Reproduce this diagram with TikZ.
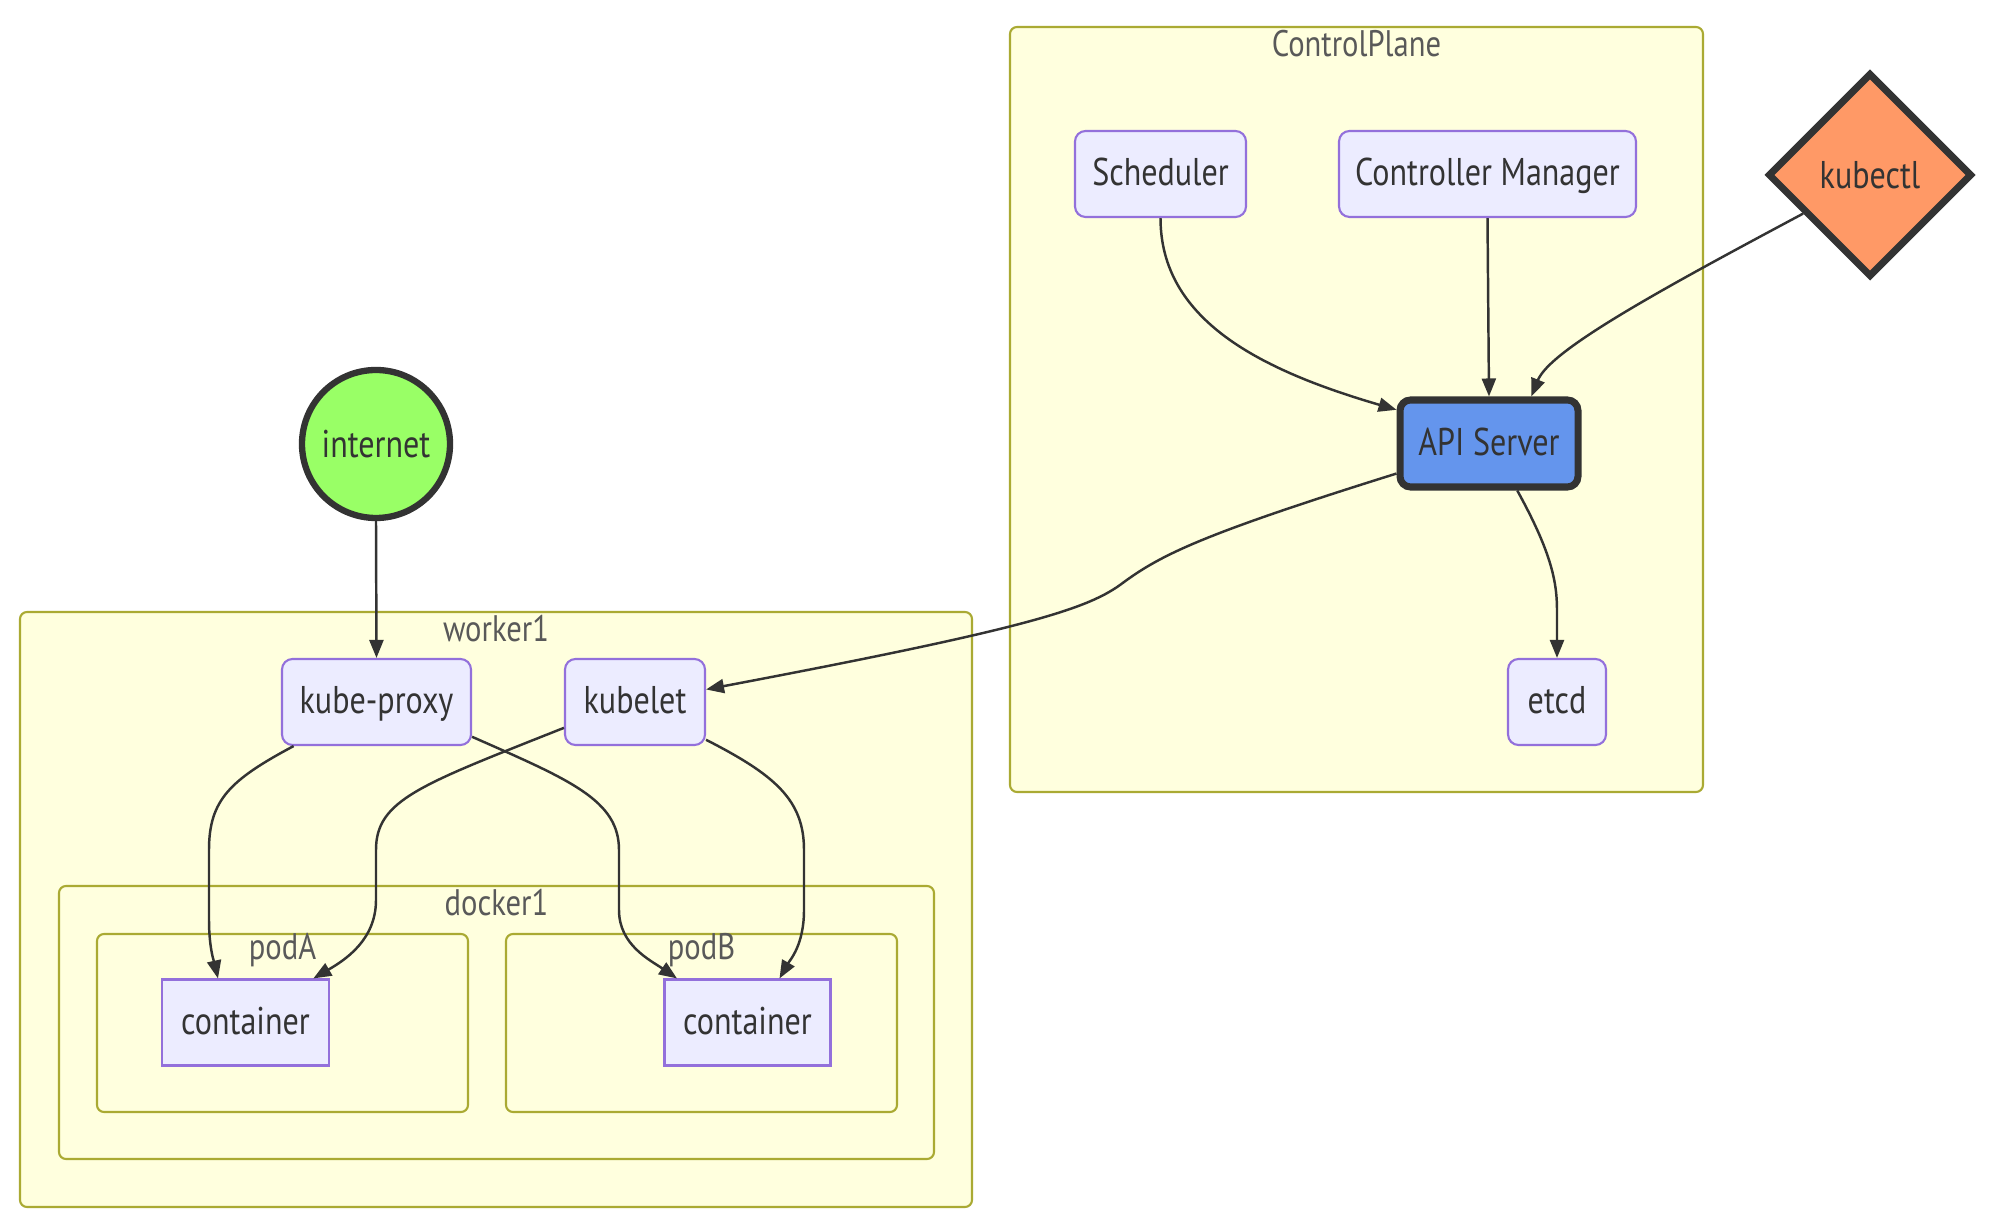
\documentclass[tikz,border=0pt]{standalone}
\usepackage{fontspec}
\setmainfont{PT Sans}[FakeStretch=0.83]
\usetikzlibrary{shapes.geometric,arrows.meta}
\definecolor{nodefill}{HTML}{ECECFF}
\definecolor{nodeline}{HTML}{9370DB}
\definecolor{clusterfill}{HTML}{FFFFDE}
\definecolor{clusterline}{HTML}{AAAA33}
\definecolor{edgecolor}{HTML}{333333}
\definecolor{netcolor}{HTML}{99FF66}
\definecolor{apicolor}{HTML}{6495ED}
\definecolor{kubectlcolor}{HTML}{FF9966}

\begin{document}
\begin{tikzpicture}[
    cluster/.style={draw=clusterline, fill=clusterfill, line width=0.6pt, rounded corners=2pt},
    clusterlabel/.style={text=black!65, font=\fontsize{10.5}{12}\selectfont, inner sep=0pt},
    compbox/.style={draw=nodeline, fill=nodefill, line width=0.6pt, rounded corners=3pt,
        text=edgecolor, minimum height=0.86cm, inner sep=0pt, text height=0.7em, text depth=0.04em,
        font=\fontsize{11}{13}\selectfont},
    sharpbox/.style={compbox, sharp corners},
    flow/.style={draw=edgecolor, line width=0.7pt, -{Triangle[length=1.8mm,width=1.4mm]}},
]
    \useasboundingbox (0,0) rectangle (20,-12.25);
    % --- Clusters ---
    \draw[cluster] (10.10,-0.27) rectangle (17.03,-7.92);
    \node[clusterlabel] (cplabel) at (13.565,-0.44) {ControlPlane};
    \draw[cluster] (0.20,-6.12) rectangle (9.72,-12.07);
    \node[clusterlabel] (wlabel) at (4.96,-6.29) {worker1};
    \draw[cluster] (0.59,-8.86) rectangle (9.34,-11.59);
    \node[clusterlabel] (dlabel) at (4.965,-9.03) {docker1};
    \draw[cluster] (0.97,-9.34) rectangle (4.68,-11.12);
    \node[clusterlabel] (palabel) at (2.825,-9.50) {podA};
    \draw[cluster] (5.06,-9.34) rectangle (8.97,-11.12);
    \node[clusterlabel] (pblabel) at (7.015,-9.50) {podB};
    % --- Control plane ---
    \node[compbox, minimum width=1.71cm] (sched) at (11.605,-1.74) {Scheduler};
    \node[compbox, minimum width=2.97cm] (ctrlmgr) at (14.875,-1.74) {Controller Manager};
    \node[diamond, draw=edgecolor, fill=kubectlcolor, line width=2pt, text=edgecolor,
        minimum width=2.04cm, minimum height=2.04cm, inner sep=0pt,
        font=\fontsize{11}{13}\selectfont] (kubectl) at (18.70,-1.75) {kubectl};
    \node[compbox, draw=edgecolor, fill=apicolor, line width=2pt,
        minimum width=1.78cm, minimum height=0.87cm] (api) at (14.89,-4.435) {API Server};
    \node[compbox, minimum width=0.98cm] (etcd) at (15.57,-7.02) {etcd};
    % --- Worker ---
    \node[circle, draw=edgecolor, fill=netcolor, line width=1.8pt, text=edgecolor,
        minimum size=1.48cm, inner sep=0pt,
        font=\fontsize{11}{13}\selectfont] (internet) at (3.76,-4.44) {internet};
    \node[compbox, minimum width=1.89cm] (kproxy) at (3.765,-7.02) {kube-proxy};
    \node[compbox, minimum width=1.40cm] (kubelet) at (6.35,-7.02) {kubelet};
    \node[sharpbox, minimum width=1.67cm] (contA) at (2.455,-10.225) {container};
    \node[sharpbox, minimum width=1.66cm] (contB) at (7.475,-10.225) {container};
    % --- Connectors ---
    \draw[flow] (sched.south) .. controls (11.605,-3.2) and (12.6,-3.7) .. (api.160);
    \draw[flow] (ctrlmgr.south) -- (api.north);
    \draw[flow] (kubectl.210) .. controls (16.6,-2.9) and (15.5,-3.5) .. (api.48);
    \draw[flow] (api.198) .. controls (12.0,-5.35) and (11.6,-5.55) .. (11.2,-5.85)
        .. controls (10.85,-6.1) and (10.2,-6.3) .. (kubelet.10);
    \draw[flow] (api.301) .. controls (15.5,-5.5) and (15.57,-5.8) .. (15.57,-6.1) -- (etcd.north);
    \draw[flow] (internet.south) -- (kproxy.north);
    \draw[flow] (kproxy.208) .. controls (2.3,-7.8) and (2.09,-8.0) .. (2.09,-8.5) -- (2.09,-9.2)
        .. controls (2.09,-9.5) and (2.15,-9.65) .. (contA.122);
    \draw[flow] (kproxy.340) .. controls (5.7,-7.8) and (6.19,-8.0) .. (6.19,-8.5) -- (6.19,-9.1)
        .. controls (6.19,-9.45) and (6.5,-9.6) .. (contB.148);
    \draw[flow] (kubelet.200) .. controls (4.2,-7.85) and (3.76,-8.0) .. (3.76,-8.5) -- (3.76,-9.0)
        .. controls (3.76,-9.4) and (3.45,-9.6) .. (contA.33);
    \draw[flow] (kubelet.-28) .. controls (7.75,-7.75) and (8.04,-8.0) .. (8.04,-8.5) -- (8.04,-9.1)
        .. controls (8.04,-9.45) and (7.9,-9.6) .. (contB.54);
\end{tikzpicture}
\end{document}
